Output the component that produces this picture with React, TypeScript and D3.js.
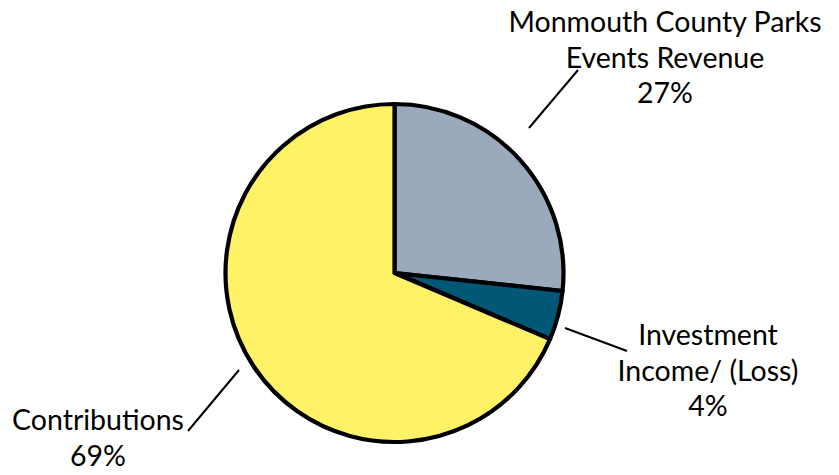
import React from "react";
import * as d3 from "d3";

const categories = ["Monmouth County Parks Events Revenue", "Investment Income/ (Loss)", "Contributions"];
const values = [26.7, 4.7, 68.6];
const colors = ["#9BA9BC", "#005876", "#FFF266"];
const labelLines = [
  ["Monmouth County Parks", "Events Revenue", "27%"],
  ["Investment", "Income/ (Loss)", "4%"],
  ["Contributions", "69%"],
];

export default function App() {
  const W = 839, H = 475;
  const cx = 394.5, cy = 273, r = 169;
  const pie = d3.pie<number>().sort(null).value((d) => d);
  const arcs = pie(values);
  const arc = d3.arc<d3.PieArcDatum<number>>().innerRadius(0).outerRadius(r);

  const labelPos = [
    { x: 665, y: 32, line: [[529, 128], [578, 70]] },
    { x: 708, y: 345, line: [[565, 328], [627, 351]] },
    { x: 98, y: 430, line: [[239, 370], [188, 431]] },
  ];

  return (
    <svg width={W} height={H} style={{ position: "absolute", left: 0, top: 0 }}>
      <rect width={W} height={H} fill="#fff" />
      <g transform={`translate(${cx},${cy})`}>
        {arcs.map((a, i) => (
          <path key={categories[i]} d={arc(a) || ""} fill={colors[i]} stroke="#000" strokeWidth={4.2} strokeLinejoin="round" />
        ))}
      </g>
      {labelLines.map((lines, i) => {
        const p = labelPos[i];
        return (
          <g key={i}>
            <line x1={p.line[0][0]} y1={p.line[0][1]} x2={p.line[1][0]} y2={p.line[1][1]} stroke="#000" strokeWidth={2} />
            <text x={p.x} y={p.y} textAnchor="middle" fontFamily="Lato, sans-serif" fontSize={28.5} fill="#000">
              {lines.map((l, j) => (
                <tspan key={j} x={p.x} dy={j === 0 ? 0 : 35.5}>{l}</tspan>
              ))}
            </text>
          </g>
        );
      })}
    </svg>
  );
}
